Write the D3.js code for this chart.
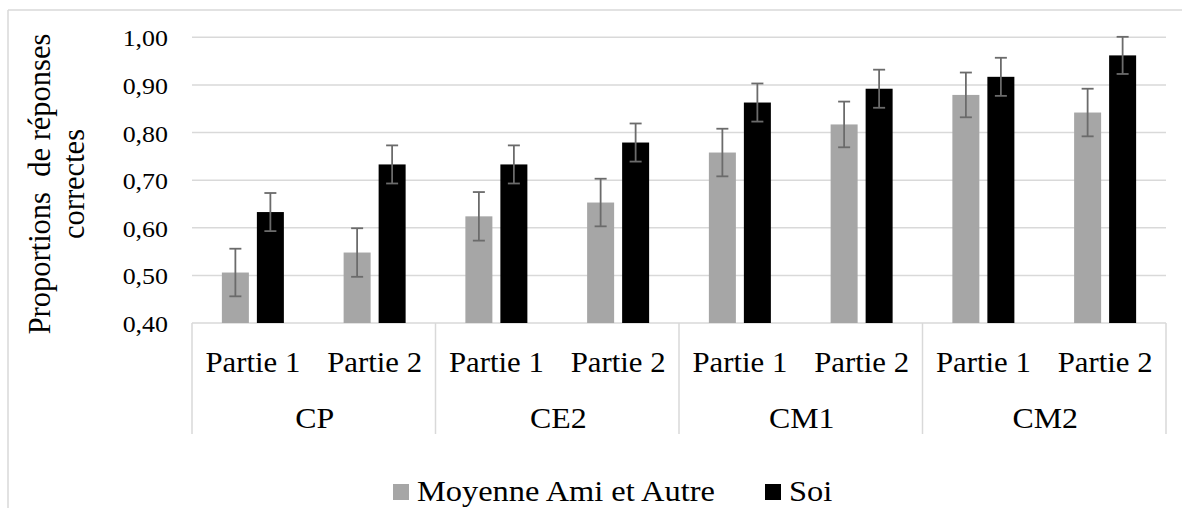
<!DOCTYPE html>
<html>
<head>
<meta charset="utf-8">
<script src="https://cdn.jsdelivr.net/npm/d3@7"></script>
<style>
  html, body { margin: 0; padding: 0; background: #fff; }
  svg { display: block; }
  svg text { font-family: 'Liberation Serif', 'Times New Roman', 'DejaVu Serif', serif; }
</style>
</head>
<body>
<svg id="chart" width="1182" height="508"></svg>
<script>
// Grades (outer category level) and parts (inner level)
const grades = ["CP", "CE2", "CM1", "CM2"];
const parts = ["Partie 1", "Partie 2"];

// Series names
const seriesNames = ["Moyenne Ami et Autre", "Soi"];
const seriesColors = ["#a6a6a6", "#000000"];

// Values in order CP P1, CP P2, CE2 P1, CE2 P2, CM1 P1, CM1 P2, CM2 P1, CM2 P2
const moyenneValues = [0.506, 0.548, 0.624, 0.653, 0.758, 0.817, 0.879, 0.842];
const moyenneErrors = [0.050, 0.051, 0.051, 0.050, 0.050, 0.048, 0.047, 0.050];
const soiValues     = [0.633, 0.733, 0.733, 0.779, 0.863, 0.892, 0.917, 0.962];
const soiErrors     = [0.040, 0.040, 0.040, 0.040, 0.040, 0.040, 0.040, 0.039];

const yTicks = [0.4, 0.5, 0.6, 0.7, 0.8, 0.9, 1.0];

const FONT = "Liberation Serif, Times New Roman, DejaVu Serif, serif";
const SX = 1.08; // slightly widened lettering
const svg = d3.select("#chart").attr("font-family", FONT);
const plot = { left: 192, right: 1166, top: 37.3, bottom: 323 };
const gridColor = "#d9d9d9";

// Helper: horizontal text placed at (x, y) with a horizontal stretch
function label(parent, tx, ty, str, size, anchor) {
  return parent.append("text")
    .attr("transform", `translate(${tx},${ty}) scale(${SX},1)`)
    .attr("text-anchor", anchor || "start")
    .attr("font-family", FONT)
    .attr("font-size", size)
    .text(str);
}

// Chart frame
svg.append("line").attr("x1", 8).attr("x2", 1182).attr("y1", 10).attr("y2", 10)
  .attr("stroke", gridColor).attr("stroke-width", 1.5);
svg.append("line").attr("x1", 8).attr("x2", 8).attr("y1", 10).attr("y2", 508)
  .attr("stroke", gridColor).attr("stroke-width", 1.5);

// Flattened categories
const cats = [];
grades.forEach(g => parts.forEach(p => cats.push(g + "|" + p)));

const x = d3.scaleBand().domain(cats).range([plot.left, plot.right]);
const xGrade = d3.scaleBand().domain(grades).range([plot.left, plot.right]);
const y = d3.scaleLinear().domain([0.4, 1.0]).range([plot.bottom, plot.top]);

// Horizontal gridlines
svg.append("g").selectAll("line").data(yTicks).join("line")
  .attr("x1", plot.left).attr("x2", plot.right)
  .attr("y1", d => y(d)).attr("y2", d => y(d))
  .attr("stroke", gridColor).attr("stroke-width", 1.5);

// Y tick labels
const fmt = d => d3.format(".2f")(d).replace(".", ",");
const yLab = svg.append("g");
yTicks.forEach(t => label(yLab, 168, y(t) + 9, fmt(t), 24, "end"));

// Y axis title (two lines)
const titleG = svg.append("g").attr("transform", "translate(0,184) rotate(-90)");
titleG.append("text").attr("x", 0).attr("y", 50).attr("text-anchor", "middle")
  .attr("font-family", FONT)
  .attr("font-size", 30.5).attr("xml:space", "preserve").text("Proportions  de réponses");
titleG.append("text").attr("x", 0).attr("y", 84).attr("text-anchor", "middle")
  .attr("font-family", FONT)
  .attr("font-size", 30.5).text("correctes");

// Category axis separators
const sepBottom = 434;
svg.append("g").selectAll("line").data(grades.concat(["end"])).join("line")
  .attr("x1", (d, i) => i < grades.length ? xGrade(d) : plot.right)
  .attr("x2", (d, i) => i < grades.length ? xGrade(d) : plot.right)
  .attr("y1", plot.bottom).attr("y2", sepBottom)
  .attr("stroke", gridColor).attr("stroke-width", 1.5);

// Part labels
const partLab = svg.append("g");
cats.forEach(c => label(partLab, x(c) + x.bandwidth() / 2, 372, c.split("|")[1], 28.5, "middle"));

// Grade labels
const gradeLab = svg.append("g");
grades.forEach(g => label(gradeLab, xGrade(g) + xGrade.bandwidth() / 2 + 1, 428, g, 29.5, "middle"));

// Bars
const barW = 27, offset = 17.5;
const series = [
  { values: moyenneValues, errors: moyenneErrors, color: seriesColors[0], dx: -offset },
  { values: soiValues, errors: soiErrors, color: seriesColors[1], dx: offset }
];

series.forEach(s => {
  const rows = cats.map((c, i) => ({ c, v: s.values[i], e: s.errors[i] }));
  const g = svg.append("g");
  g.selectAll("rect").data(rows).join("rect")
    .attr("x", d => x(d.c) + x.bandwidth() / 2 + s.dx - barW / 2)
    .attr("width", barW)
    .attr("y", d => y(d.v))
    .attr("height", d => y(0.4) - y(d.v))
    .attr("fill", s.color);

  // Error bars
  const eb = svg.append("g").attr("stroke", "#6b6b6b").attr("stroke-width", 1.8);
  rows.forEach(d => {
    const cx = x(d.c) + x.bandwidth() / 2 + s.dx;
    eb.append("line").attr("x1", cx).attr("x2", cx)
      .attr("y1", y(d.v + d.e)).attr("y2", y(d.v - d.e));
    eb.append("line").attr("x1", cx - 6).attr("x2", cx + 6)
      .attr("y1", y(d.v + d.e)).attr("y2", y(d.v + d.e));
    eb.append("line").attr("x1", cx - 6).attr("x2", cx + 6)
      .attr("y1", y(d.v - d.e)).attr("y2", y(d.v - d.e));
  });
});

// Legend
const legend = svg.append("g");
const legendItems = [
  { name: seriesNames[0], color: seriesColors[0], x: 393 },
  { name: seriesNames[1], color: seriesColors[1], x: 765 }
];
legendItems.forEach(it => {
  legend.append("rect").attr("x", it.x).attr("y", 484).attr("width", 16).attr("height", 16)
    .attr("fill", it.color);
  label(legend, it.x + 24, 501, it.name, 30, "start");
});
</script>
</body>
</html>
